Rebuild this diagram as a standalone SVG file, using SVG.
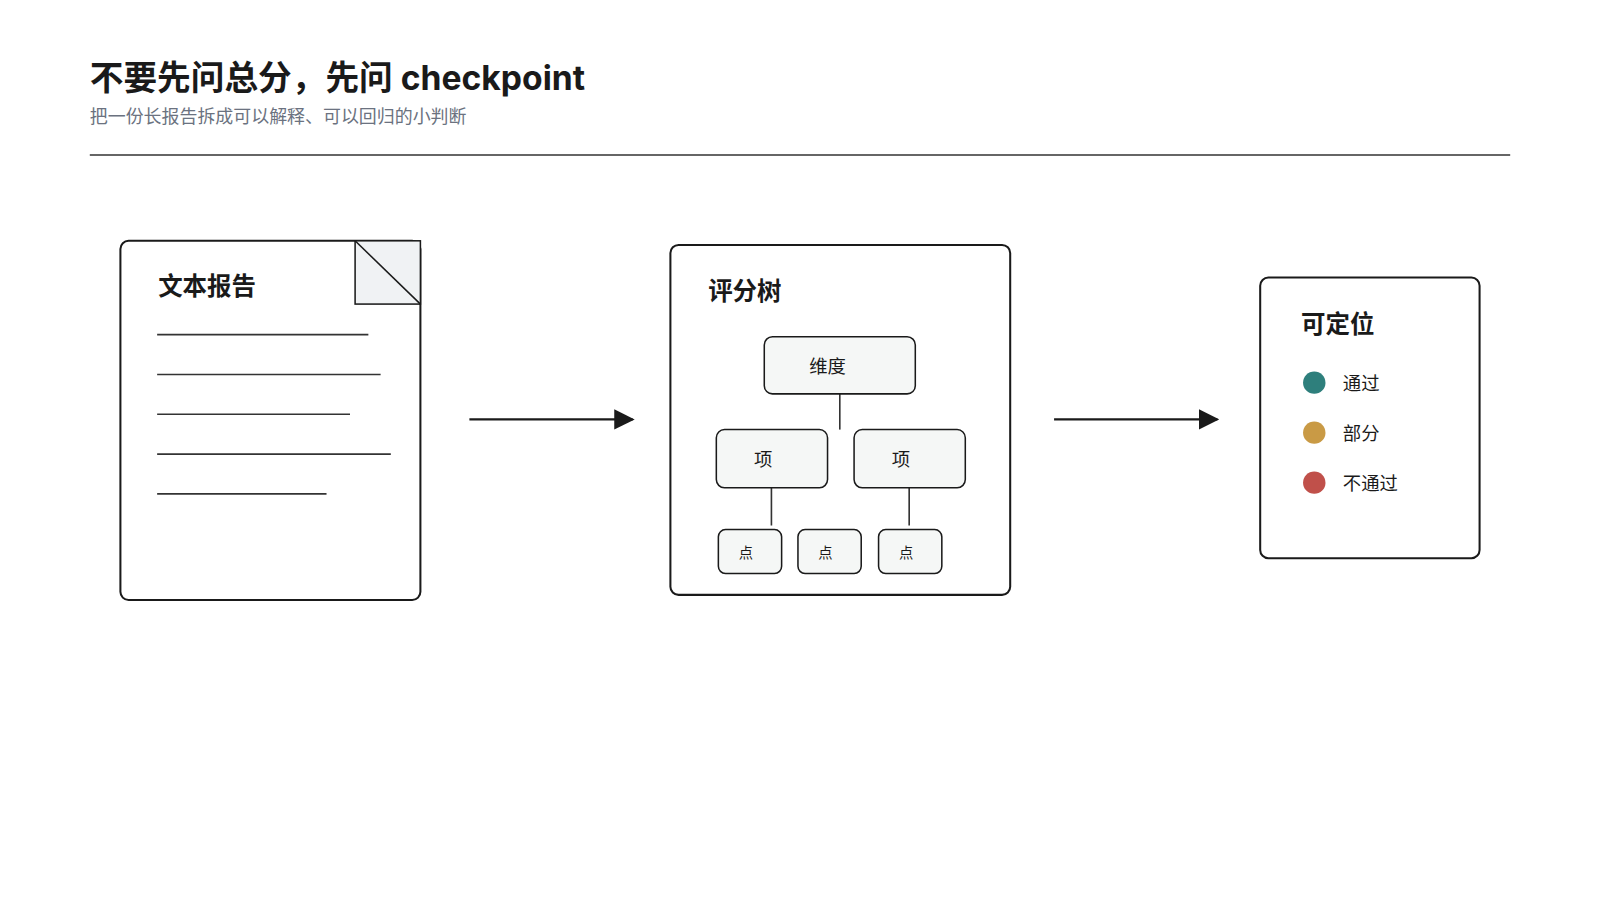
<svg xmlns="http://www.w3.org/2000/svg" width="1600" height="900" viewBox="0 0 1600 900">
<style>
text{font-family:"Noto Sans CJK SC","Noto Sans",sans-serif;fill:#1a1a1a}
.box{fill:#fff;stroke:#1a1a1a;stroke-width:2}
.nd{fill:#f5f7f6;stroke:#1a1a1a;stroke-width:1.5}
.ln{stroke:#333;stroke-width:1.6}
.h{font-size:24px;font-weight:bold}
.t{font-size:18px;text-anchor:middle}
.s{font-size:14px;text-anchor:middle}
</style>
<defs><marker id="ah" markerWidth="20" markerHeight="20" refX="18" refY="10" orient="auto" markerUnits="userSpaceOnUse"><path d="M0,0 L20,10 L0,20 Z" fill="#1a1a1a"/></marker></defs>
<rect width="1600" height="900" fill="#fff"/>
<g transform="scale(1.0204)">
<text x="88" y="88" font-size="33" font-weight="bold" style="font-family:Inter,'Noto Sans CJK SC',sans-serif">不要先问总分，先问 checkpoint</text>
<text x="88" y="121" font-size="17.6" style="fill:#6b7280">把一份长报告拆成可以解释、可以回归的小判断</text>
<line x1="88" y1="152" x2="1480" y2="152" stroke="#333" stroke-width="1.5"/>
<g id="doc">
<rect class="box" x="118" y="236" width="294" height="352" rx="8"/>
<rect x="348" y="236" width="64" height="62" fill="#f0f2f4" stroke="#1a1a1a" stroke-width="1.5"/>
<line x1="348" y1="236" x2="412" y2="298" stroke="#1a1a1a" stroke-width="1.5"/>
<text x="155" y="289" class="h">文本报告</text>
<g class="ln"><line x1="154" y1="328" x2="361" y2="328"/><line x1="154" y1="367" x2="373" y2="367"/><line x1="154" y1="406" x2="343" y2="406"/><line x1="154" y1="445" x2="383" y2="445"/><line x1="154" y1="484" x2="320" y2="484"/></g>
</g>
<g id="tree">
<rect class="box" x="657" y="240" width="333" height="343" rx="8"/>
<text x="694" y="294" class="h">评分树</text>
<g class="ln"><line x1="823" y1="386" x2="823" y2="421"/><line x1="756" y1="478" x2="756" y2="515"/><line x1="891" y1="478" x2="891" y2="515"/></g>
<rect class="nd" x="749" y="330" width="148" height="56" rx="8"/><text x="811" y="366" class="t">维度</text>
<rect class="nd" x="702" y="421" width="109" height="57" rx="8"/><text x="748" y="457" class="t">项</text>
<rect class="nd" x="837" y="421" width="109" height="57" rx="8"/><text x="883" y="457" class="t">项</text>
<rect class="nd" x="704" y="519" width="62" height="43" rx="7"/><text x="731" y="547" class="s">点</text>
<rect class="nd" x="782" y="519" width="62" height="43" rx="7"/><text x="809" y="547" class="s">点</text>
<rect class="nd" x="861" y="519" width="62" height="43" rx="7"/><text x="888" y="547" class="s">点</text>
</g>
<g id="result">
<rect class="box" x="1235" y="272" width="215" height="275" rx="8"/>
<text x="1275" y="326" class="h">可定位</text>
<circle cx="1288" cy="375" r="11" fill="#2e7f7c"/><text x="1316" y="382" font-size="18">通过</text>
<circle cx="1288" cy="424" r="11" fill="#c99a45"/><text x="1316" y="431" font-size="18">部分</text>
<circle cx="1288" cy="473" r="11" fill="#c0504a"/><text x="1316" y="480" font-size="18">不通过</text>
</g>
<g id="connectors" stroke="#1a1a1a" stroke-width="2">
<line x1="460" y1="411" x2="620" y2="411" marker-end="url(#ah)"/>
<line x1="1033" y1="411" x2="1193" y2="411" marker-end="url(#ah)"/>
</g>
</g>
</svg>
